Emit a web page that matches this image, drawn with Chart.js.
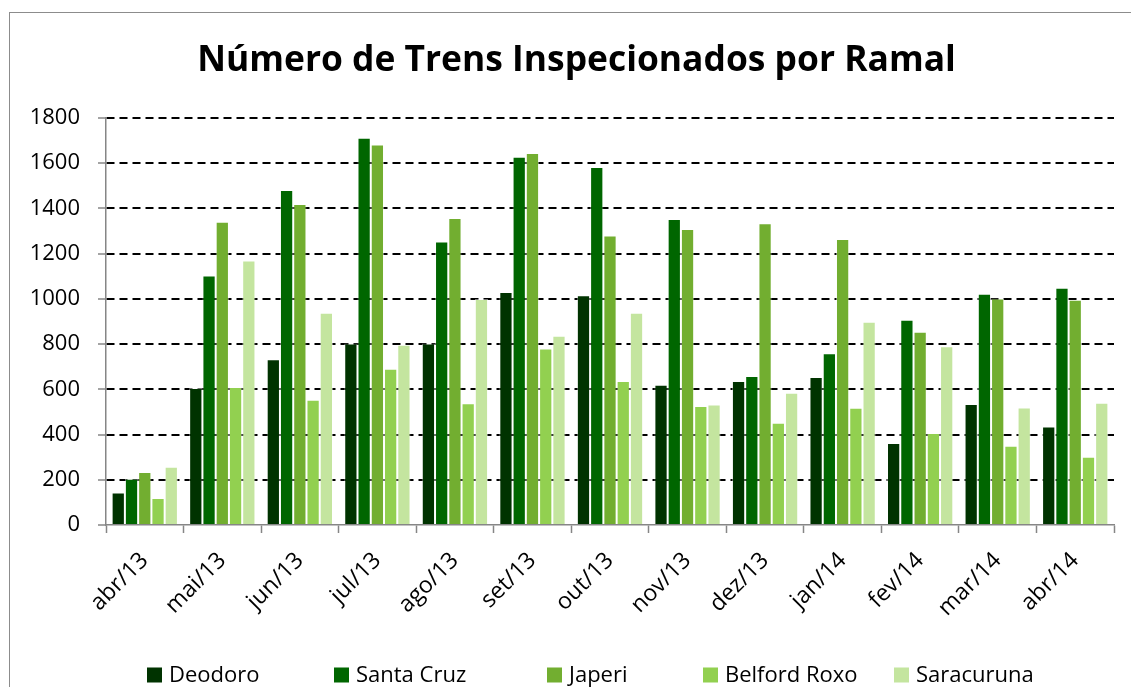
<!DOCTYPE html>
<html>
<head>
<meta charset="utf-8">
<title>Número de Trens Inspecionados por Ramal</title>
<script src="https://cdn.jsdelivr.net/npm/chart.js@4/dist/chart.umd.min.js"></script>
<style>
  html, body { margin: 0; padding: 0; background: #ffffff; }
  #wrap { width: 1131px; height: 687px; position: relative; }
</style>
</head>
<body>
<div id="wrap"><canvas id="c" width="1131" height="687"></canvas></div>
<script>
// Months (abril/2013 a abril/2014)
const months = ['abr/13', 'mai/13', 'jun/13', 'jul/13', 'ago/13', 'set/13', 'out/13',
                'nov/13', 'dez/13', 'jan/14', 'fev/14', 'mar/14', 'abr/14'];

// Trains inspected per branch line
const deodoro     = [144,  606,  733,  803,  803, 1030, 1016,  620,  637,  654,  363,  535,  436];
const santaCruz   = [205, 1103, 1482, 1713, 1254, 1629, 1583, 1353,  659,  759,  908, 1023, 1049];
const japeri      = [234, 1341, 1420, 1683, 1358, 1645, 1280, 1309, 1334, 1265,  855, 1002,  996];
const belfordRoxo = [119,  610,  554,  691,  538,  780,  637,  526,  452,  519,  407,  351,  302];
const saracuruna  = [258, 1170,  939,  797, 1000,  837,  939,  533,  585,  899,  790,  520,  541];

const seriesNames = ['Deodoro', 'Santa Cruz', 'Japeri', 'Belford Roxo', 'Saracuruna'];
const yTicks = [0, 200, 400, 600, 800, 1000, 1200, 1400, 1600, 1800];

const palette = ['#003300', '#006600', '#72ae30', '#92d050', '#c4e59f'];
const FONT = '"Open Sans", "Liberation Sans", sans-serif';

const seriesValues = [deodoro, santaCruz, japeri, belfordRoxo, saracuruna];

// Outer frame around the whole chart
const framePlugin = {
  id: 'frame',
  beforeDraw(chart) {
    const c = chart.ctx;
    c.save();
    c.fillStyle = '#ffffff';
    c.fillRect(0, 0, chart.width, chart.height);
    c.strokeStyle = '#8c8c8c';
    c.lineWidth = 1;
    c.strokeRect(9.5, 12.5, chart.width + 20, chart.height + 20);
    c.restore();
  }
};

// Title is centred over the plot rather than the whole canvas
const titleShift = {
  id: 'titleShift',
  afterLayout(chart) {
    if (chart.titleBlock) chart.titleBlock.left = 39;
  }
};

// Bottom legend with evenly spread entries
const legendPlugin = {
  id: 'bottomLegend',
  afterDraw(chart) {
    const c = chart.ctx;
    const xs = [147, 334, 547, 703, 894];
    const y = 675;
    c.save();
    c.font = '22px ' + FONT;
    c.textBaseline = 'middle';
    c.textAlign = 'left';
    chart.data.datasets.forEach((ds, i) => {
      c.fillStyle = ds.backgroundColor;
      c.fillRect(xs[i], y - 7.5, 15, 15);
      c.fillStyle = '#000000';
      c.fillText(ds.label, xs[i] + 22, y + 1);
    });
    c.restore();
  }
};

const datasets = seriesNames.map((name, i) => ({
  label: name,
  data: seriesValues[i],
  backgroundColor: palette[i],
  borderColor: 'rgba(255,255,255,0.45)',
  borderWidth: 1,
  categoryPercentage: 0.855,
  barPercentage: 1.0
}));

new Chart(document.getElementById('c'), {
  type: 'bar',
  data: { labels: months, datasets },
  options: {
    responsive: false,
    animation: false,
    devicePixelRatio: 1,
    layout: { padding: { left: 0, right: 17, top: 0, bottom: 0 } },
    plugins: {
      legend: { display: false },
      tooltip: { enabled: false },
      title: {
        display: true,
        text: 'Número de Trens Inspecionados por Ramal',
        color: '#000000',
        font: { family: FONT, size: 35.4, weight: 'bold' },
        padding: { top: 40, bottom: 35.5 }
      }
    },
    scales: {
      x: {
        offset: true,
        afterFit(scale) { scale.height = 162; },
        border: { display: true, color: '#868686', width: 1.5 },
        grid: {
          display: true,
          offset: true,
          drawOnChartArea: false,
          drawTicks: true,
          tickLength: 8,
          tickColor: '#868686',
          tickWidth: 1.5
        },
        ticks: {
          autoSkip: false,
          minRotation: 45,
          maxRotation: 45,
          padding: 14,
          color: '#000000',
          font: { family: FONT, size: 23 }
        }
      },
      y: {
        min: 0,
        max: 1800,
        afterFit(scale) { scale.width = 106; },
        afterBuildTicks(scale) { scale.ticks = yTicks.map(v => ({ value: v })); },
        border: { display: true, color: '#868686', width: 1.5, dash: [8, 5] },
        grid: {
          color: (ctx) => (ctx.tick && ctx.tick.value === 0) ? 'rgba(0,0,0,0)' : '#000000',
          lineWidth: 2,
          drawTicks: true,
          tickLength: 8,
          tickColor: '#868686',
          tickWidth: 1.5,
          tickBorderDash: []
        },
        ticks: {
          padding: 18,
          color: '#000000',
          font: { family: FONT, size: 22 },
          callback: (v) => String(v)
        }
      }
    }
  },
  plugins: [framePlugin, titleShift, legendPlugin]
});
</script>
</body>
</html>
